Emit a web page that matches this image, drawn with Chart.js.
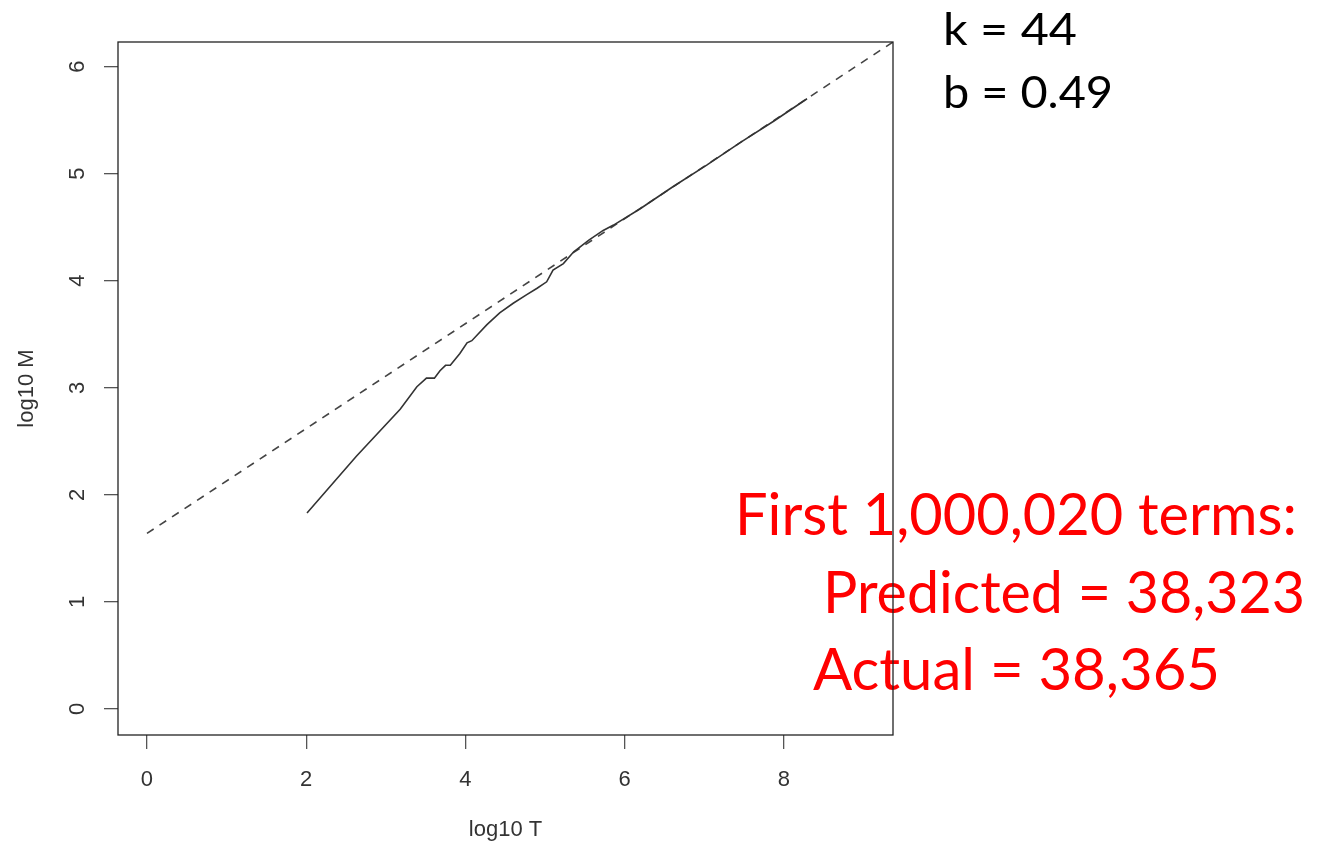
<!DOCTYPE html>
<html><head><meta charset="utf-8">
<script src="https://cdn.jsdelivr.net/npm/chart.js@4.4.1/dist/chart.umd.min.js"></script>
<style>html,body{margin:0;padding:0;background:#fff;} #wrap{width:1329px;height:843px;}</style>
</head><body><div id="wrap"><canvas id="c" width="1329" height="843"></canvas></div>
<script>
// observed curve: log10 T vs log10 M
const logT = [2.01, 2.63, 3.18, 3.39, 3.51, 3.61, 3.68, 3.75, 3.81, 3.93, 4.02, 4.08, 4.27, 4.43, 4.60, 4.77, 4.90, 5.02, 5.10, 5.23, 5.36, 5.55, 5.73, 5.86, 6.19, 6.61, 7.03, 7.45, 7.87, 8.29];
const logM = [1.83, 2.36, 2.80, 3.01, 3.09, 3.09, 3.16, 3.21, 3.21, 3.32, 3.42, 3.44, 3.59, 3.70, 3.79, 3.87, 3.93, 3.99, 4.10, 4.16, 4.27, 4.38, 4.47, 4.52, 4.67, 4.88, 5.08, 5.29, 5.49, 5.70];
// fitted line (dashed)
const fitT = [0, 9.37];
const fitM = [1.64, 6.23];
// axes
const xTicks = [0, 2, 4, 6, 8];
const yTicks = [0, 1, 2, 3, 4, 5, 6];
const xTitle = 'log10 T';
const yTitle = 'log10 M';
// annotations
const fitText = ['k = 44', 'b = 0.49'];
const noteText = ['First 1,000,020 terms:', 'Predicted = 38,323', 'Actual = 38,365'];

const AXFONT = "'Liberation Sans', Arial, sans-serif";
const TXFONT = "Lato, 'Open Sans', sans-serif";

function fitTextDraw(ctx, text, left, baseline, width, size, color) {
  ctx.save();
  ctx.font = size + 'px ' + TXFONT;
  ctx.fillStyle = color;
  ctx.textAlign = 'left';
  ctx.textBaseline = 'alphabetic';
  const w = ctx.measureText(text).width;
  ctx.translate(left, baseline);
  ctx.scale(width / w, 1);
  ctx.fillText(text, 0, 0);
  ctx.restore();
}

const annot = {
  id: 'annot',
  beforeDatasetsDraw(chart) {
    const ctx = chart.ctx;
    fitTextDraw(ctx, fitText[0], 943, 45, 134, 44, '#000');
    fitTextDraw(ctx, fitText[1], 943, 108, 170, 44, '#000');
    fitTextDraw(ctx, noteText[0], 735, 535, 562, 58, '#ff0000');
    fitTextDraw(ctx, noteText[1], 823, 613, 482, 58, '#ff0000');
    fitTextDraw(ctx, noteText[2], 813, 690, 407, 58, '#ff0000');
  },
  afterDraw(chart) {
    const {ctx, chartArea: a} = chart;
    ctx.save();
    ctx.strokeStyle = '#222';
    ctx.lineWidth = 1.3;
    ctx.strokeRect(a.left, a.top, a.right - a.left, a.bottom - a.top);
    ctx.restore();
  }
};

new Chart(document.getElementById('c'), {
  type: 'line',
  data: {
    datasets: [
      {
        data: logT.map((t, i) => ({x: t, y: logM[i]})),
        borderColor: '#333', borderWidth: 1.6, pointRadius: 0, tension: 0, fill: false
      },
      {
        data: fitT.map((t, i) => ({x: t, y: fitM[i]})),
        borderColor: '#444', borderWidth: 1.6, borderDash: [8, 7], pointRadius: 0, tension: 0, fill: false
      }
    ]
  },
  options: {
    responsive: false, animation: false, devicePixelRatio: 1,
    layout: {padding: {left: 0, top: 42, right: 436, bottom: 0}},
    plugins: {legend: {display: false}, tooltip: {enabled: false}, title: {display: false}},
    scales: {
      x: {
        type: 'linear', position: 'bottom', min: -0.364, max: 9.37,
        afterBuildTicks: s => { s.ticks = xTicks.map(v => ({value: v})); },
        afterFit: s => { s.height = 108; },
        grid: {drawOnChartArea: false, drawTicks: true, tickLength: 14, tickColor: '#555', lineWidth: 1.3},
        border: {display: false},
        ticks: {color: '#333', font: {family: AXFONT, size: 22}, padding: 18, autoSkip: false, maxRotation: 0, minRotation: 0},
        title: {display: true, text: xTitle, color: '#333', font: {family: AXFONT, size: 22}, padding: {top: 0, bottom: 0}}
      },
      y: {
        type: 'linear', position: 'left', min: -0.243, max: 6.23,
        afterBuildTicks: s => { s.ticks = yTicks.map(v => ({value: v})); },
        afterFit: s => { s.width = 118; },
        grid: {drawOnChartArea: false, drawTicks: true, tickLength: 14, tickColor: '#555', lineWidth: 1.3},
        border: {display: false},
        ticks: {color: '#333', font: {family: AXFONT, size: 22}, padding: 20, autoSkip: false, minRotation: 90, maxRotation: 90, crossAlign: 'center'},
        title: {display: true, text: yTitle, color: '#333', font: {family: AXFONT, size: 22}, padding: {top: 14, bottom: 0}}
      }
    }
  },
  plugins: [annot]
});
</script>
</body></html>
